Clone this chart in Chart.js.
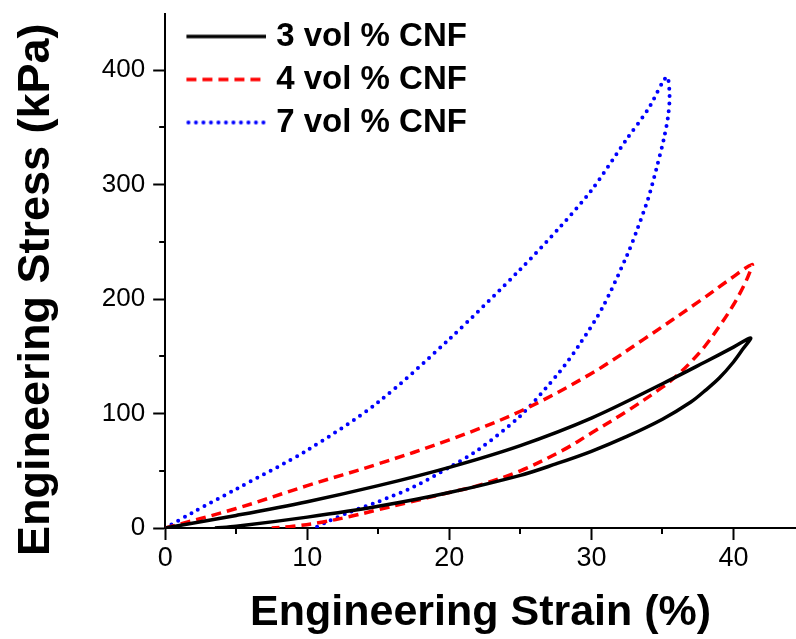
<!DOCTYPE html>
<html><head><meta charset="utf-8">
<script src="https://cdn.jsdelivr.net/npm/chart.js@4.4.1/dist/chart.umd.min.js"></script>
<style>html,body{margin:0;padding:0;background:#fff}#wrap{width:796px;height:639px}</style>
</head><body><div id="wrap"><canvas id="c" width="796" height="639"></canvas></div>
<script>
const seriesLabels = ['3 vol % CNF', '4 vol % CNF', '7 vol % CNF'];
const xTickLabels = [0, 10, 20, 30, 40];
const yTickLabels = [0, 100, 200, 300, 400];

// 3 vol % CNF : loading then unloading
const strain3 = [0, 5, 10, 15, 20, 25, 30, 35, 38, 40, 41.2, 40.7, 40, 39, 38, 37, 35, 32.5, 30, 27.5, 25, 20, 15, 10, 5, 3.5];
const stress3 = [0, 11, 23, 37, 53, 72, 96, 126, 145, 158, 166, 157, 145, 131, 120, 110, 95, 80, 67, 56, 46, 31, 19, 9.5, 1.5, 0];

// 4 vol % CNF
const strain4 = [0, 5, 10, 15, 20, 25, 30, 33.7, 37.7, 39.6, 41.3, 41.1, 40.7, 40, 39, 38, 37, 36, 35, 32.5, 30, 28, 25, 22, 20, 17, 15, 13, 11, 9, 7.5];
const stress4 = [0, 17, 37, 56, 77, 102, 135, 165, 199, 216, 230, 222, 211, 195, 176, 159, 145, 133, 123, 102, 83, 68, 50, 37, 31, 22, 16, 10, 5, 1.5, 0];

// 7 vol % CNF
const strain7 = [0, 2, 5, 10, 15, 20, 25, 27.8, 30, 32.5, 34, 35.3, 35.5, 35.4, 35.1, 34.6, 34, 33.2, 32.5, 30.8, 29.2, 27.8, 25, 22, 20, 17.5, 15, 13, 11.5, 10.5];
const stress7 = [0, 14, 34, 68, 110, 165, 226, 263, 295, 340, 366, 394, 378, 360, 340, 315, 288, 260, 238, 193, 161, 137, 98, 68, 53, 36, 23, 14, 6, 0];

const toPts = (xs, ys) => xs.map((x, i) => ({x: x, y: ys[i]}));
const FAM = '"Liberation Sans", Arial, sans-serif';

function makeSample(color, width, dash, cap) {
  const cv = document.createElement('canvas');
  cv.width = 98; cv.height = 10;
  const g = cv.getContext('2d');
  g.strokeStyle = color; g.lineWidth = width; g.lineCap = cap || 'butt';
  g.setLineDash(dash || []);
  g.beginPath(); g.moveTo(cap === 'round' ? 20 : 18, 5); g.lineTo(98 - (cap === 'round' ? 2 : 0), 5); g.stroke();
  return cv;
}

const minorTicks = {
  id: 'minorTicks',
  afterDraw(chart) {
    const ctx = chart.ctx;
    const xs = chart.scales.x, ys = chart.scales.y;
    ctx.save();
    ctx.strokeStyle = '#000';
    ctx.lineWidth = 2;
    const xv = xs.ticks.map(t => t.value);
    const xstep = xv[1] - xv[0];
    xv.forEach(t => {
      const v = t + xstep / 2;
      if (v < xs.max) {
        const px = Math.round(xs.getPixelForValue(v));
        ctx.beginPath(); ctx.moveTo(px, xs.top); ctx.lineTo(px, xs.top + 6); ctx.stroke();
      }
    });
    const yv = ys.ticks.map(t => t.value);
    const ystep = yv[1] - yv[0];
    yv.forEach(t => {
      const v = t + ystep / 2;
      if (v < ys.max) {
        const py = Math.round(ys.getPixelForValue(v));
        ctx.beginPath(); ctx.moveTo(ys.right, py); ctx.lineTo(ys.right - 6, py); ctx.stroke();
      }
    });
    ctx.restore();
  }
};

new Chart(document.getElementById('c'), {
  type: 'scatter',
  data: {
    datasets: [
      {label: seriesLabels[0], data: toPts(strain3, stress3), showLine: true, borderColor: '#000000', backgroundColor: '#000000', borderWidth: 3.5, pointRadius: 0, tension: 0.35, fill: false,
       pointStyle: makeSample('#000000', 3.5, [], 'butt')},
      {label: seriesLabels[1], data: toPts(strain4, stress4), showLine: true, borderColor: '#ff0000', backgroundColor: '#ff0000', borderWidth: 3.5, borderDash: [10, 6], pointRadius: 0, tension: 0.35, fill: false,
       pointStyle: makeSample('#ff0000', 3.5, [10, 6], 'butt')},
      {label: seriesLabels[2], data: toPts(strain7, stress7), showLine: true, borderColor: '#0000ff', backgroundColor: '#0000ff', borderWidth: 4, borderDash: [0, 7.5], borderCapStyle: 'round', pointRadius: 0, tension: 0.3, fill: false,
       pointStyle: makeSample('#0000ff', 4, [0, 7.5], 'round')}
    ]
  },
  options: {
    responsive: false,
    animation: false,
    layout: {padding: {left: 0, top: 14, right: 0, bottom: 0}},
    plugins: {
      legend: {
        position: 'chartArea',
        align: 'start',
        title: {display: true, text: ' ', font: {size: 1, lineHeight: 1}, padding: {top: 9, bottom: 0}},
        labels: {
          usePointStyle: true,
          pointStyleWidth: 84.5,
          boxHeight: 10,
          padding: 10,
          color: '#000',
          font: {family: FAM, size: 33, weight: 'bold'}
        }
      },
      tooltip: {enabled: false}
    },
    scales: {
      x: {
        type: 'linear', min: 0, max: 44.4,
        afterBuildTicks: (s) => { s.ticks = xTickLabels.map(v => ({value: v})); },
        ticks: {stepSize: 10, includeBounds: false, padding: 2, color: '#000', font: {family: FAM, size: 27}},
        grid: {drawOnChartArea: false, drawTicks: true, tickLength: 12, tickWidth: 2, tickColor: '#000'},
        border: {display: true, color: '#000', width: 2},
        title: {display: true, text: 'Engineering Strain (%)', color: '#000', font: {family: FAM, size: 43, weight: 'bold'}, padding: {top: 11, bottom: 0}}
      },
      y: {
        type: 'linear', min: 0, max: 449,
        afterBuildTicks: (s) => { s.ticks = yTickLabels.map(v => ({value: v})); },
        ticks: {stepSize: 100, includeBounds: false, padding: 8, color: '#000', font: {family: FAM, size: 26, lineHeight: 0.4}},
        grid: {drawOnChartArea: false, drawTicks: true, tickLength: 12, tickWidth: 2, tickColor: '#000'},
        border: {display: true, color: '#000', width: 2},
        title: {display: true, text: 'Engineering Stress (kPa)   ', color: '#000', font: {family: FAM, size: 45, weight: 'bold'}, padding: {top: 10, bottom: 29.8}}
      }
    }
  },
  plugins: [minorTicks]
});
</script>
</body></html>
